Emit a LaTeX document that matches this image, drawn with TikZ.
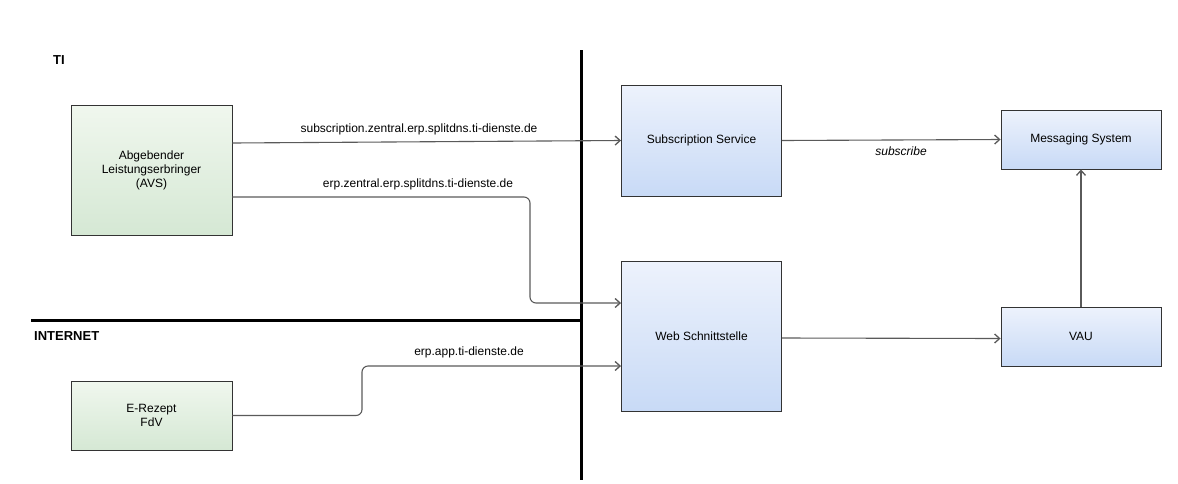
\documentclass[tikz,border=0pt]{standalone}
\usepackage{fontspec}
\setmainfont{Liberation Sans}
\usetikzlibrary{arrows.meta}
\definecolor{greenbot}{HTML}{D5E8D4}
\definecolor{greentop}{HTML}{F0F7EE}
\definecolor{bluebot}{HTML}{C8DAF6}
\definecolor{bluetop}{HTML}{EDF2FC}
\definecolor{edgegray}{HTML}{5A5A5A}
\tikzset{
  base/.style={draw=black!80, line width=0.9pt, inner sep=2pt, align=center,
    font=\fontsize{12}{14}\selectfont},
  greenbox/.style={base, top color=greentop, bottom color=greenbot},
  bluebox/.style={base, top color=bluetop, bottom color=bluebot},
  conn/.style={draw=edgegray, line width=1.1pt, -{Straight Barb[length=5pt,width=9pt,line width=1.3pt]}, rounded corners=6pt},
  lbl/.style={font=\fontsize{12}{14}\selectfont, inner sep=0pt},
  zone/.style={font=\bfseries\fontsize{13}{15}\selectfont, inner sep=0pt, anchor=west},
  wall/.style={line width=3pt, black}
}
\begin{document}
\begin{tikzpicture}[x=1pt,y=-1pt]
\useasboundingbox (0,0) rectangle (1178,483);
% separators
\coordinate (vtop) at (581,50);
\coordinate (vbot) at (581,480);
\coordinate (hleft) at (31,320);
\coordinate (hright) at (581,320);
\draw[wall] (vtop) -- (vbot);
\draw[wall] (hleft) -- (hright);
\node[zone] (ti) at (53,60) {TI};
\node[zone] (inet) at (34,336) {INTERNET};
% nodes
\node[greenbox, minimum width=161pt, minimum height=130pt] (avs) at (151.5,170) {Abgebender\\Leistungserbringer\\(AVS)};
\node[greenbox, minimum width=161pt, minimum height=69pt] (fdv) at (151.5,415.5) {E-Rezept\\FdV};
\node[bluebox, minimum width=160pt, minimum height=111pt] (sub) at (701.5,140.5) {Subscription Service};
\node[bluebox, minimum width=160pt, minimum height=150pt] (web) at (701.5,336) {Web Schnittstelle};
\node[bluebox, minimum width=160pt, minimum height=59pt] (msg) at (1081,139.5) {Messaging System};
\node[bluebox, minimum width=160pt, minimum height=59pt] (vau) at (1081,336.5) {VAU};
% connectors
\draw[conn] ([yshift=27pt]avs.east) -- (sub.west);
\node[lbl] (l1) at (419,129) {subscription.zentral.erp.splitdns.ti-dienste.de};
\draw[conn] ([yshift=-27pt]avs.east) -- (530,197) -- (530,303) -- ([yshift=33pt]web.west);
\node[lbl] (l2) at (418,184) {erp.zentral.erp.splitdns.ti-dienste.de};
\draw[conn] (fdv.east) -- (362,415.5) -- (362,366) -- ([yshift=-30pt]web.west);
\node[lbl] (l3) at (469,352) {erp.app.ti-dienste.de};
\draw[conn] (sub.east) -- (msg.west);
\node[lbl, font=\itshape\fontsize{12}{14}\selectfont] (l4) at (901,151) {subscribe};
\draw[conn] ([yshift=-2pt]web.east) -- ([yshift=-2pt]vau.west);
\draw[conn, rounded corners=0pt] (vau.north) -- (msg.south);
\end{tikzpicture}
\end{document}
